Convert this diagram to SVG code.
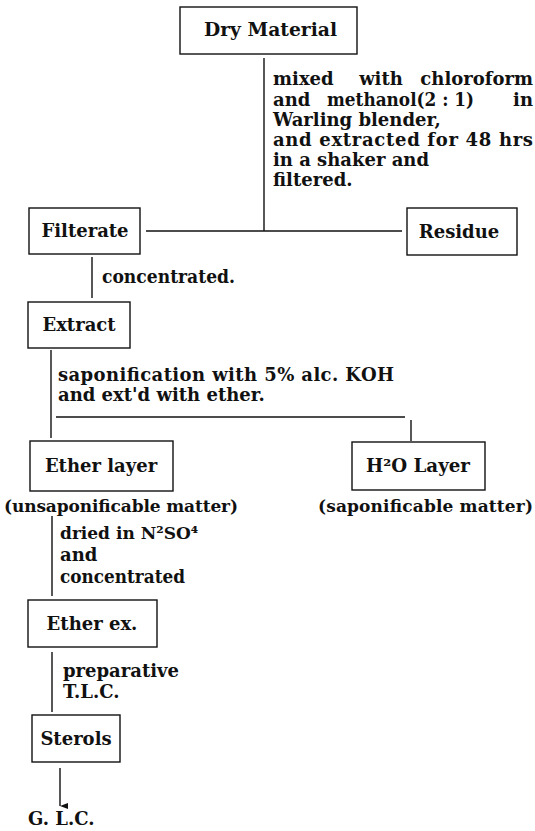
<svg xmlns="http://www.w3.org/2000/svg" width="535" height="831" viewBox="0 0 535 831">
<style>
text{font-family:"DejaVu Serif","Liberation Serif",serif;font-weight:bold;font-size:18px;fill:#111}
.lbl{font-size:18px}
.sm{font-size:17px}
.box{fill:none;stroke:#111;stroke-width:1.4}
.ln{fill:none;stroke:#111;stroke-width:1.4}
</style>
<defs>
<marker id="ah" markerWidth="6" markerHeight="8" refX="3" refY="8" orient="auto" markerUnits="userSpaceOnUse" viewBox="0 0 6 8">
<path d="M0,0 L3,8 L6,0 Z" fill="#111"/>
</marker>
</defs>
<rect width="535" height="831" fill="#fff"/>
<g id="connectors">
<line class="ln" x1="264" y1="58" x2="264" y2="231"/>
<line class="ln" x1="146" y1="231" x2="402" y2="231"/>
<line class="ln" x1="92" y1="257" x2="92" y2="298"/>
<line class="ln" x1="51" y1="350" x2="51" y2="438"/>
<line class="ln" x1="56" y1="417" x2="405" y2="417"/>
<line class="ln" x1="411" y1="420" x2="411" y2="441"/>
<line class="ln" x1="52" y1="516" x2="52" y2="596"/>
<line class="ln" x1="52" y1="652" x2="52" y2="712"/>
<path class="ln" d="M60,768 V806" marker-end="url(#ah)"/>
</g>
<g id="n-dry"><rect class="box" x="180" y="7" width="177" height="47"/><text class="lbl" x="204" y="36" textLength="133" lengthAdjust="spacingAndGlyphs">Dry Material</text></g>
<g id="t-mixed">
<text x="273" y="85">mixed</text>
<text x="381" y="85" text-anchor="middle">with</text>
<text x="533" y="85" text-anchor="end">chloroform</text>
<text x="273" y="106">and</text>
<text x="327" y="106" textLength="147" lengthAdjust="spacingAndGlyphs">methanol(2 : 1)</text>
<text x="533" y="106" text-anchor="end">in</text>
<text x="273" y="126">Warling blender,</text>
<text x="273" y="146" textLength="260" lengthAdjust="spacing">and extracted for 48 hrs</text>
<text x="273" y="166">in a shaker and</text>
<text x="273" y="186">filtered.</text>
</g>
<g id="n-filterate"><rect class="box" x="29" y="208" width="111" height="46"/><text class="lbl" x="85" y="237" text-anchor="middle">Filterate</text></g>
<g id="n-residue"><rect class="box" x="407" y="208" width="110" height="47"/><text class="lbl" x="459" y="238" text-anchor="middle">Residue</text></g>
<g id="t-conc"><text x="102" y="283" textLength="133" lengthAdjust="spacingAndGlyphs">concentrated.</text></g>
<g id="n-extract"><rect class="box" x="28" y="302" width="102" height="46"/><text class="lbl" x="79" y="331" text-anchor="middle">Extract</text></g>
<g id="t-sapon">
<text x="58" y="381" textLength="336" lengthAdjust="spacing">saponification with 5% alc. KOH</text>
<text x="58" y="401">and ext'd with ether.</text>
</g>
<g id="n-ether"><rect class="box" x="30" y="441" width="143" height="50"/><text class="lbl" x="101" y="472" text-anchor="middle">Ether layer</text></g>
<text class="sm" x="4" y="512" textLength="234" lengthAdjust="spacing">(unsaponificable matter)</text>
<g id="n-h2o"><rect class="box" x="352" y="442" width="133" height="48"/><text class="lbl" x="366" y="472" textLength="104" lengthAdjust="spacingAndGlyphs">H²O Layer</text></g>
<text class="sm" x="318" y="512" textLength="215" lengthAdjust="spacing">(saponificable matter)</text>
<g id="t-dried">
<text x="60" y="539" style="font-size:17px">dried in N²SO⁴</text>
<text x="60" y="561">and</text>
<text x="60" y="583" textLength="125" lengthAdjust="spacingAndGlyphs">concentrated</text>
</g>
<g id="n-etherex"><rect class="box" x="28" y="600" width="129" height="47"/><text class="lbl" x="92" y="630" text-anchor="middle">Ether ex.</text></g>
<g id="t-tlc">
<text x="63" y="677">preparative</text>
<text x="63" y="698">T.L.C.</text>
</g>
<g id="n-sterols"><rect class="box" x="32" y="715" width="88" height="47"/><text class="lbl" x="76" y="745" text-anchor="middle">Sterols</text></g>
<g id="n-glc"><text x="28" y="825">G. L.C.</text></g>
</svg>
